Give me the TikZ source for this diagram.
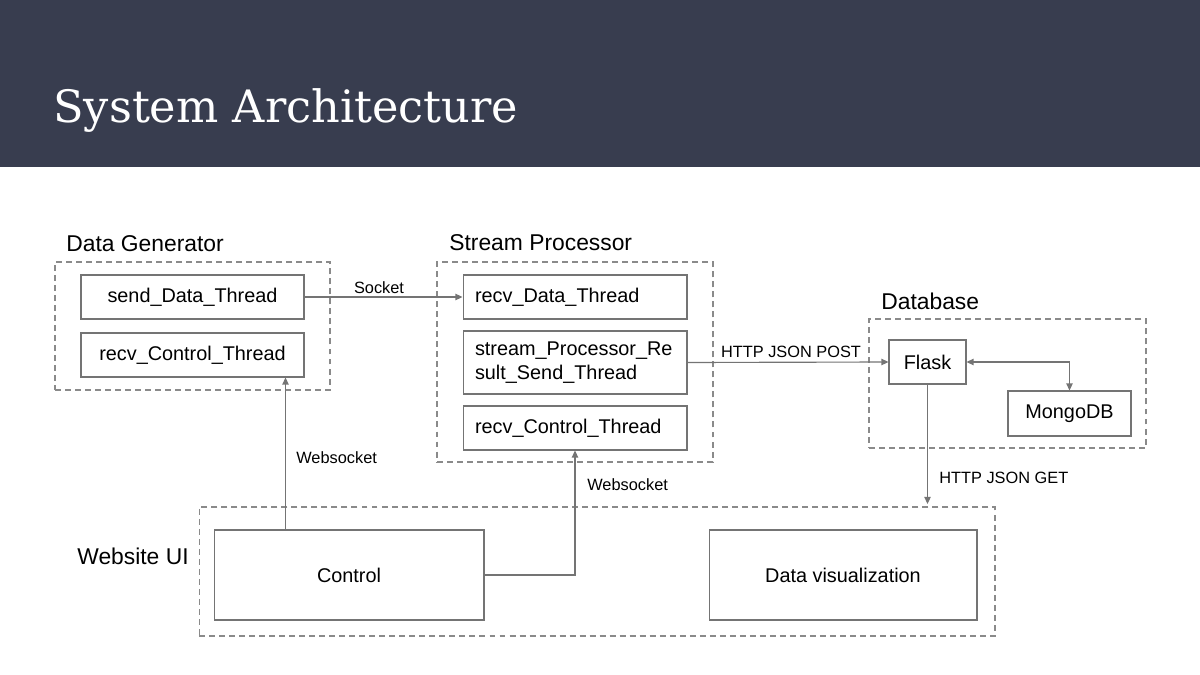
\documentclass[tikz,border=0pt]{standalone}
\usepackage{fontspec}
\setmainfont{Liberation Sans}
\newfontfamily\titlefont{DejaVu Serif}
\usetikzlibrary{arrows.meta}
\definecolor{hdr}{HTML}{383D4F}
\definecolor{linec}{HTML}{747474}
\definecolor{dashc}{HTML}{8A8A8A}
\tikzset{
  grp/.style={draw=dashc, line width=0.65pt, dash pattern=on 3.4pt off 2.3pt, inner sep=0pt},
  box/.style={draw=linec, line width=0.6pt, inner sep=0pt, font=\fontsize{11.3pt}{13.6pt}\selectfont, text=black},
  lbox/.style={box, align=left, text width=4.0cm, inner xsep=0.24cm},
  head/.style={font=\fontsize{13pt}{15pt}\selectfont, text=black, anchor=west, inner sep=0pt},
  elabel/.style={font=\fontsize{9.3pt}{11pt}\selectfont, text=black, inner sep=0pt},
  arr/.style={draw=linec, line width=0.65pt, -{Triangle[length=4pt,width=3.6pt]}},
  darr/.style={draw=linec, line width=0.65pt, {Triangle[length=4pt,width=3.6pt]}-{Triangle[length=4pt,width=3.6pt]}},
}
\begin{document}
\begin{tikzpicture}[x=0.02cm, y=-0.02cm]
\useasboundingbox (0,0) rectangle (1200,675);
\fill[white] (0,0) rectangle (1200,675);
\fill[hdr] (0,0) rectangle (1200,167);
\node[anchor=base west, inner sep=0pt, text=white, font=\titlefont\fontsize{25.4pt}{28pt}\selectfont] (title) at (53,123) {System Architecture};

% groups
\node[grp, minimum width=5.5cm, minimum height=2.56cm] (dg) at (192.5,326) {};
\node[grp, minimum width=5.52cm, minimum height=4cm] (sp) at (575,362) {};
\node[grp, minimum width=5.54cm, minimum height=2.58cm] (db) at (1007.5,383.5) {};
\node[grp, minimum width=15.92cm, minimum height=2.58cm] (ui) at (597,571.5) {};

\node[head] (dgl) at (66,244) {Data Generator};
\node[head] (spl) at (449,243) {Stream Processor};
\node[head] (dbl) at (881,301) {Database};
\node[head] (uil) at (77,556) {Website UI};

% boxes
\node[box, minimum width=4.46cm, minimum height=0.88cm] (sendData) at (192.5,297) {send\_Data\_Thread};
\node[box, minimum width=4.46cm, minimum height=0.88cm] (recvCtrlA) at (192.5,355) {recv\_Control\_Thread};
\node[lbox, minimum height=0.88cm] (recvData) at (575,297) {recv\_Data\_Thread};
\node[lbox, minimum height=1.26cm] (spResult) at (575,362.5) {stream\_Processor\_Re\\sult\_Send\_Thread};
\node[lbox, minimum height=0.88cm] (recvCtrlB) at (575,428) {recv\_Control\_Thread};
\node[box, minimum width=1.54cm, minimum height=0.88cm] (flask) at (927.5,362) {Flask};
\node[box, minimum width=2.46cm, minimum height=0.9cm] (mongo) at (1069.5,413.5) {MongoDB};
\node[box, minimum width=5.4cm, minimum height=1.8cm] (control) at (349,575) {Control};
\node[box, minimum width=5.36cm, minimum height=1.8cm] (dataviz) at (843,575) {Data visualization};

% connectors
\draw[arr] (sendData.east) -- (recvData.west);
\node[elabel] (sockl) at (379,288) {Socket};

\coordinate (wsx) at (285.5,0);
\draw[arr] (control.north -| wsx) -- (recvCtrlA.south -| wsx);
\node[elabel, anchor=west] (wsl1) at (296,458) {Websocket};

\draw[arr] (control.east) -| (recvCtrlB.south);
\node[elabel, anchor=west] (wsl2) at (587,485) {Websocket};

\draw[arr] (spResult.east) -- (flask.west);
\node[elabel] (postl) at (791,352) {HTTP JSON POST};

\draw[darr] (flask.east) -| (mongo.north);

\coordinate (getend) at (927.5,504);
\draw[arr] (flask.south) -- (getend);
\node[elabel, anchor=west] (getl) at (939,478) {HTTP JSON GET};
\end{tikzpicture}
\end{document}
